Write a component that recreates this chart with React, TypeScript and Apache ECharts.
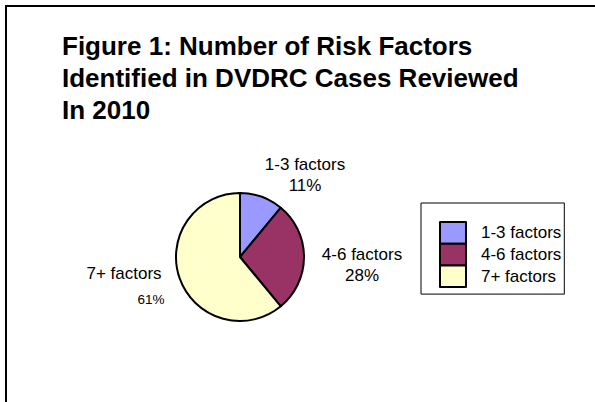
import React, { useEffect, useRef } from "react";
import * as echarts from "echarts";

const titleLines = [
  "Figure 1: Number of Risk Factors",
  "Identified in DVDRC Cases Reviewed",
  "In 2010",
];
const categories = ["1-3 factors", "4-6 factors", "7+ factors"];
const values = [11, 28, 61];
const colors = ["#9999FF", "#993366", "#FFFFCC"];

const FONT = "'Liberation Sans', Arial, sans-serif";

// label anchor positions (layout only)
const labelAnchors: [number, number][] = [
  [305, 174.5],
  [362, 265],
  [124, 288.5],
];

export default function App() {
  const ref = useRef<HTMLDivElement>(null);
  useEffect(() => {
    if (!ref.current) return;
    const chart = echarts.init(ref.current, null, { renderer: "svg" });
    const normalLabel = {
      formatter: "{n|{b}}\n{p|{d}%}",
      rich: {
        n: { fontSize: 17, lineHeight: 21, color: "#000", fontFamily: FONT },
        p: { fontSize: 17, lineHeight: 21, color: "#000", fontFamily: FONT },
      },
    };
    const smallPctLabel = {
      formatter: "{n|{b}}\n{p|{d}%}",
      rich: {
        n: { fontSize: 17, lineHeight: 21, color: "#000", fontFamily: FONT },
        p: {
          fontSize: 13.5,
          lineHeight: 31,
          color: "#000",
          fontFamily: FONT,
          padding: [0, 0, 0, 54],
        },
      },
    };
    chart.setOption({
      animation: false,
      backgroundColor: "#fff",
      title: {
        text: titleLines.join("\n"),
        left: 62,
        top: 30,
        padding: 0,
        textStyle: {
          fontSize: 26,
          fontWeight: "bold",
          lineHeight: 32,
          color: "#000",
          fontFamily: FONT,
        },
      },
      legend: {
        orient: "vertical",
        left: 421,
        top: 203,
        padding: [18, 3, 6, 18],
        itemWidth: 26,
        itemHeight: 21.7,
        itemGap: -2,
        icon: "rect",
        borderColor: "#000",
        borderWidth: 1,
        backgroundColor: "#fff",
        data: categories,
        itemStyle: { borderColor: "#000", borderWidth: 2 },
        textStyle: {
          fontSize: 17,
          lineHeight: 18,
          color: "#000",
          fontFamily: FONT,
          padding: [0, 0, 0, 10],
        },
      },
      graphic: [
        {
          type: "polyline",
          shape: {
            points: [
              [6, 402],
              [6, 6],
              [595, 6],
            ],
          },
          style: { stroke: "#000", lineWidth: 2, fill: "none" },
          silent: true,
        },
      ],
      series: [
        {
          type: "pie",
          center: [240, 257],
          radius: 64,
          startAngle: 90,
          clockwise: true,
          itemStyle: { borderColor: "#000", borderWidth: 2 },
          labelLine: { show: false },
          emphasis: { disabled: true },
          labelLayout: (params: any) => ({
            x: labelAnchors[params.dataIndex][0],
            y: labelAnchors[params.dataIndex][1],
            align: "center",
            verticalAlign: "middle",
          }),
          data: categories.map((name, i) => ({
            name,
            value: values[i],
            itemStyle: { color: colors[i] },
            label: i === 2 ? smallPctLabel : normalLabel,
          })),
        },
      ],
    });
    return () => chart.dispose();
  }, []);
  return (
    <div
      ref={ref}
      style={{ position: "fixed", left: 0, top: 0, width: 595, height: 402 }}
    />
  );
}
